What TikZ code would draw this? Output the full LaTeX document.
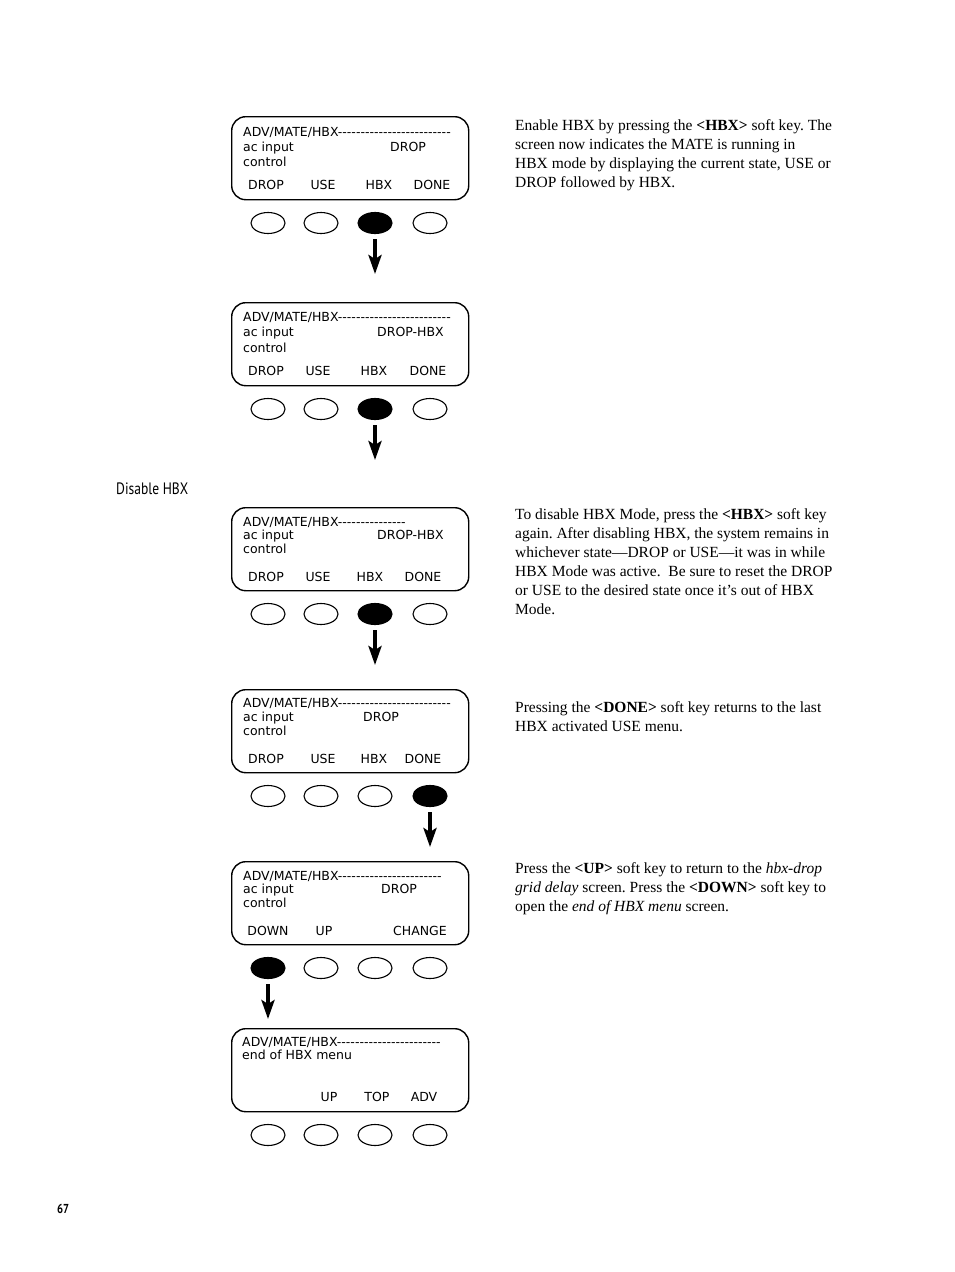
\documentclass[tikz,border=0pt]{standalone}
\usepackage{fontspec}
\setmainfont{Liberation Serif}
\newfontfamily\lcdfont{DejaVu Sans}
\newfontfamily\headfont[FakeStretch=0.82]{PT Sans}
\usetikzlibrary{arrows.meta,shapes.geometric}
\frenchspacing

\newcommand\lcddashes[1]{\foreach\i in {1,...,#1}{-\kern0pt}}

\tikzset{
  lcd/.style={draw,line width=1.4pt,rounded corners=14pt,minimum width=237pt,
    minimum height=83pt,anchor=north west,inner sep=0pt},
  lcdtext/.style={font=\lcdfont\fontsize{12.5}{12.5}\selectfont,inner sep=0pt,anchor=base west},
  keytext/.style={lcdtext,anchor=base},
  softkey/.style={draw,ellipse,line width=1.1pt,minimum width=34pt,minimum height=21pt,inner sep=0pt},
  keyarrow/.style={line width=4pt,-{Stealth[length=19pt,width=13pt,inset=4pt]}},
  note/.style={font=\fontsize{15.5}{19}\selectfont,align=left,anchor=base west,inner sep=0pt}
}

\begin{document}
\begin{tikzpicture}[x=1pt,y=-1pt]
\useasboundingbox (0,0) rectangle (954,1272);

% screens and soft keys
\foreach \n/\t/\k in {1/116/3,2/302/3,3/507/3,4/689/4,5/861/1,6/1028/0}{
  \node[lcd] (scr\n) at (231,\t) {};
  \foreach \b/\bx in {1/268,2/321,3/375,4/430}{
    \ifnum\b=\k
      \node[softkey,fill=black] (key\n\b) at (\bx,\t+107) {};
    \else
      \node[softkey] (key\n\b) at (\bx,\t+107) {};
    \fi
  }
}

% arrows below the pressed keys
\foreach \n/\k in {1/3,2/3,3/3,4/4,5/1}
  \draw[keyarrow] ([yshift=-5pt]key\n\k.south) -- ([yshift=-40pt]key\n\k.south) coordinate (tip\n);

% screen 1
\node[lcdtext] (hd1) at (243,136) {ADV/MATE/HBX\lcddashes{25}};
\node[lcdtext] (ac1) at (243,151) {ac input};
\node[lcdtext] (st1) at (390,151) {DROP};
\node[lcdtext] (ct1) at (243,166) {control};
\node[keytext] at (266,189) {DROP};
\node[keytext] at (323,189) {USE};
\node[keytext] at (379,189) {HBX};
\node[keytext] at (432,189) {DONE};

% screen 2
\node[lcdtext] (hd2) at (243,321) {ADV/MATE/HBX\lcddashes{25}};
\node[lcdtext] (ac2) at (243,336) {ac input};
\node[lcdtext] (st2) at (377,336) {DROP-HBX};
\node[lcdtext] (ct2) at (243,352) {control};
\node[keytext] at (266,375) {DROP};
\node[keytext] at (318,375) {USE};
\node[keytext] at (374,375) {HBX};
\node[keytext] at (428,375) {DONE};

% screen 3
\node[lcdtext] (hd3) at (243,526) {ADV/MATE/HBX\lcddashes{15}};
\node[lcdtext] (ac3) at (243,539) {ac input};
\node[lcdtext] (st3) at (377,539) {DROP-HBX};
\node[lcdtext] (ct3) at (243,553) {control};
\node[keytext] at (266,581) {DROP};
\node[keytext] at (318,581) {USE};
\node[keytext] at (370,581) {HBX};
\node[keytext] at (423,581) {DONE};

% screen 4
\node[lcdtext] (hd4) at (243,707) {ADV/MATE/HBX\lcddashes{25}};
\node[lcdtext] (ac4) at (243,721) {ac input};
\node[lcdtext] (st4) at (363,721) {DROP};
\node[lcdtext] (ct4) at (243,735) {control};
\node[keytext] at (266,763) {DROP};
\node[keytext] at (323,763) {USE};
\node[keytext] at (374,763) {HBX};
\node[keytext] at (423,763) {DONE};

% screen 5
\node[lcdtext] (hd5) at (243,880) {ADV/MATE/HBX\lcddashes{23}};
\node[lcdtext] (ac5) at (243,893) {ac input};
\node[lcdtext] (st5) at (381,893) {DROP};
\node[lcdtext] (ct5) at (243,907) {control};
\node[keytext] at (268,935) {DOWN};
\node[keytext] at (324,935) {UP};
\node[keytext] at (420,935) {CHANGE};

% screen 6
\node[lcdtext] (hd6) at (242,1046) {ADV/MATE/HBX\lcddashes{23}};
\node[lcdtext] (ac6) at (242,1059) {end of HBX menu};
\node[keytext] at (329,1101) {UP};
\node[keytext] at (377,1101) {TOP};
\node[keytext] at (424,1101) {ADV};

% notes (base = last line)
\node[note] (note1) at (515,187) {Enable HBX by pressing the \textbf{<HBX>} soft key. The\\
  screen now indicates the MATE is running in\\
  HBX mode by displaying the current state, USE or\\
  DROP followed by HBX.};
\node[note] (note2) at (515,614) {To disable HBX Mode, press the \textbf{<HBX>} soft key\\
  again. After disabling HBX, the system remains in\\
  whichever state---DROP or USE---it was in while\\
  HBX Mode was active.\ \ Be sure to reset the DROP\\
  or USE to the desired state once it’s out of HBX\\
  Mode.};
\node[note] (note3) at (515,731) {Pressing the \textbf{<DONE>} soft key returns to the last\\
  HBX activated USE menu.};
\node[note] (note4) at (515,911) {Press the \textbf{<UP>} soft key to return to the \textit{hbx-drop}\\
  \textit{grid delay} screen. Press the \textbf{<DOWN>} soft key to\\
  open the \textit{end of HBX menu} screen.};

\node[font=\headfont\fontsize{16.5}{16.5}\selectfont,anchor=base west,inner sep=0pt] (title) at (116,494) {Disable HBX};
\node[font=\headfont\bfseries\fontsize{13}{13}\selectfont,anchor=base west,inner sep=0pt] (page) at (57,1213) {67};
\end{tikzpicture}
\end{document}
